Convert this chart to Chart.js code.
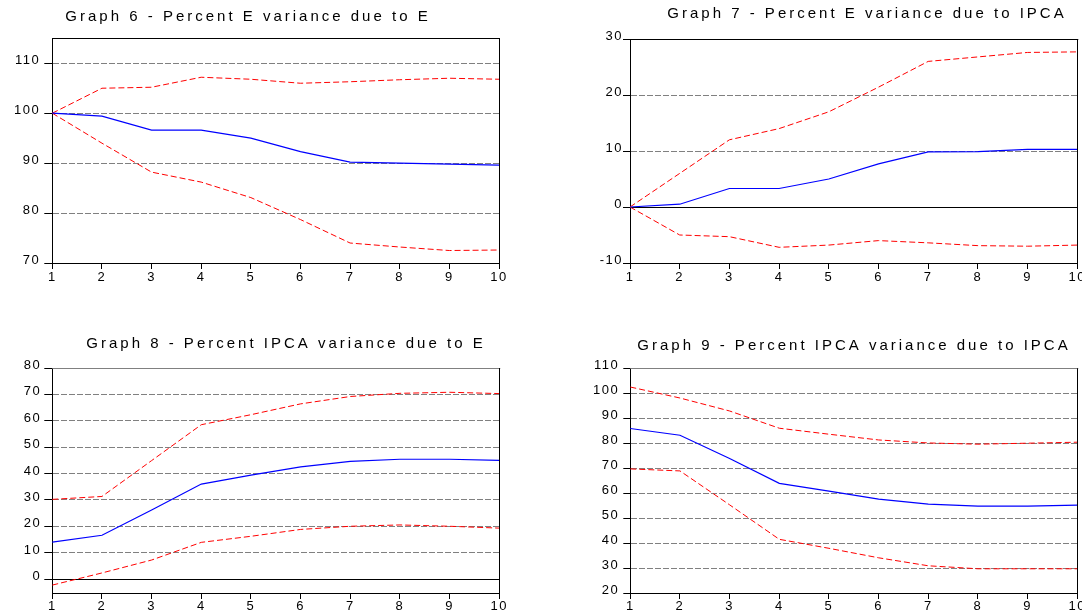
<!DOCTYPE html>
<html>
<head>
<meta charset="utf-8">
<script src="https://cdn.jsdelivr.net/npm/chart.js@4"></script>
<style>
  html, body { margin: 0; padding: 0; background: #fff; }
  #page { position: relative; width: 1082px; height: 614px; overflow: hidden; background: #fff; }
  .panel { position: absolute; }
</style>
</head>
<body>
<div id="page">
  <div class="panel" style="left:-3px; top:0px; width:515px; height:290px;"><canvas id="g6"></canvas></div>
  <div class="panel" style="left:588px; top:0px; width:558px; height:290px;"><canvas id="g7"></canvas></div>
  <div class="panel" style="left:0px; top:320px; width:572px; height:294px;"><canvas id="g8"></canvas></div>
  <div class="panel" style="left:588px; top:320px; width:532px; height:294px;"><canvas id="g9"></canvas></div>
</div>
<script>
// forecast horizon (periods)
const periods = ['1', '2', '3', '4', '5', '6', '7', '8', '9', '10'];

// Graph 6 - Percent E variance due to E
const g6Mid   = [100, 99.4, 96.6, 96.6, 95.0, 92.3, 90.2, 90.0, 89.8, 89.6];
const g6Upper = [100, 105.0, 105.2, 107.2, 106.8, 106.0, 106.3, 106.7, 107.0, 106.8];
const g6Lower = [100, 94.0, 88.2, 86.2, 83.1, 78.7, 74.0, 73.2, 72.5, 72.6];

// Graph 7 - Percent E variance due to IPCA
const g7Mid   = [0, 0.5, 3.3, 3.3, 5.0, 7.7, 9.85, 9.9, 10.3, 10.3];
const g7Upper = [0, 6.0, 12.0, 14.0, 17.0, 21.4, 26.0, 26.8, 27.6, 27.7];
const g7Lower = [0, -5.0, -5.3, -7.2, -6.8, -6.0, -6.4, -6.9, -7.0, -6.8];

// Graph 8 - Percent IPCA variance due to E
const g8Mid   = [14.0, 16.6, 26.2, 36.0, 39.4, 42.5, 44.6, 45.4, 45.4, 45.0];
const g8Upper = [30.2, 31.3, 44.9, 58.5, 62.3, 66.4, 69.2, 70.4, 70.8, 70.3];
const g8Lower = [-2.3, 2.3, 7.2, 13.9, 16.2, 18.8, 20.0, 20.5, 20.0, 19.3];

// Graph 9 - Percent IPCA variance due to IPCA
const g9Mid   = [85.9, 83.2, 73.9, 63.9, 60.8, 57.6, 55.6, 54.8, 54.8, 55.2];
const g9Upper = [102.5, 98.1, 92.9, 86.0, 83.6, 81.3, 80.1, 79.6, 80.0, 80.4];
const g9Lower = [69.7, 68.9, 55.3, 41.5, 37.9, 34.1, 30.9, 29.7, 29.7, 29.7];

Chart.defaults.font.family = 'Arial, "Liberation Sans", sans-serif';
Chart.defaults.color = '#000';

// spaced lettering like the original, plus the top/right frame
const framePlugin = {
  id: 'frame',
  beforeDraw(chart) { chart.ctx.letterSpacing = '3px'; },
  afterDatasetsDraw(chart) { chart.ctx.letterSpacing = '1.5px'; },
  afterDraw(chart, args, opts) {
    const ctx = chart.ctx;
    const a = chart.chartArea;
    ctx.save();
    ctx.lineWidth = 1;
    ctx.strokeStyle = opts.topColor || '#000';
    ctx.beginPath();
    ctx.moveTo(a.left, Math.round(a.top) + 0.5);
    ctx.lineTo(a.right + 1, Math.round(a.top) + 0.5);
    ctx.stroke();
    ctx.strokeStyle = '#000';
    ctx.beginPath();
    ctx.moveTo(Math.round(a.right) + 0.5, a.top);
    ctx.lineTo(Math.round(a.right) + 0.5, a.bottom);
    ctx.stroke();
    ctx.restore();
  }
};

function makeChart(id, mid, upper, lower, p) {
  const band = (data) => ({
    data: data,
    borderColor: '#ff0000',
    borderWidth: 1,
    borderDash: [6, 3],
    pointRadius: 0,
    tension: 0,
    fill: false
  });
  return new Chart(document.getElementById(id), {
    type: 'line',
    data: {
      labels: periods,
      datasets: [
        { data: mid, borderColor: '#0000ff', borderWidth: 1.2, pointRadius: 0, tension: 0, fill: false },
        band(upper),
        band(lower)
      ]
    },
    options: {
      responsive: true,
      maintainAspectRatio: false,
      animation: false,
      events: [],
      layout: { padding: { left: 0, right: p.padRight, top: 0, bottom: 0 } },
      plugins: {
        legend: { display: false },
        tooltip: { enabled: false },
        title: {
          display: true,
          text: p.title,
          color: '#000',
          font: { size: 15, weight: 'normal', lineHeight: 1.2 },
          padding: { top: p.titleTop, bottom: p.titleBottom }
        },
        frame: { topColor: p.topColor }
      },
      scales: {
        x: {
          type: 'category',
          offset: false,
          grid: { drawOnChartArea: false, tickLength: 6, color: '#000', lineWidth: 1 },
          border: { color: '#000', width: 1 },
          ticks: { font: { size: 13 }, padding: p.xPad, maxRotation: 0, autoSkip: false, z: 1 },
          afterFit: (s) => { s.height = p.xHeight; }
        },
        y: {
          min: p.min,
          max: p.max,
          grid: {
            color: (c) => (c.tick && c.tick.value === 0 ? '#000' : '#808080'),
            tickColor: '#000',
            tickLength: p.yTick,
            tickBorderDash: [],
            lineWidth: 1
          },
          border: {
            color: '#000',
            width: 1,
            dash: (c) => (c.tick && c.tick.value === 0 ? [] : [6, 2])
          },
          ticks: { stepSize: 10, includeBounds: false, font: { size: 13 }, padding: p.yPad, labelOffset: -2.5, z: 1 },
          afterFit: (s) => { s.width = p.yWidth; }
        },
        // empty right-hand spacer, only there to place the title like the original
        yR: {
          position: 'right',
          grid: { display: false },
          border: { display: false },
          ticks: { display: false },
          afterFit: (s) => { s.width = p.rightGap; }
        }
      }
    },
    plugins: [framePlugin]
  });
}

makeChart('g6', g6Mid, g6Upper, g6Lower, {
  title: 'Graph 6 - Percent E variance due to E',
  min: 70, max: 115, padRight: 13, rightGap: 0, yWidth: 55.3, xHeight: 27,
  titleTop: 7.5, titleBottom: 12.8, xPad: 1, yTick: 8, yPad: 4, topColor: '#000'
});
makeChart('g7', g7Mid, g7Upper, g7Lower, {
  title: 'Graph 7 - Percent E variance due to IPCA',
  min: -10, max: 30, padRight: 0, rightGap: 68.7, yWidth: 42, xHeight: 27,
  titleTop: 4.8, titleBottom: 16.2, xPad: 1, yTick: 7, yPad: 0, topColor: '#000'
});
makeChart('g8', g8Mid, g8Upper, g8Lower, {
  title: 'Graph 8 - Percent IPCA variance due to E',
  min: -5.3, max: 80, padRight: 0, rightGap: 72.7, yWidth: 52.3, xHeight: 21,
  titleTop: 14.7, titleBottom: 15.3, xPad: 0, yTick: 8, yPad: 3, topColor: '#808080'
});
makeChart('g9', g9Mid, g9Upper, g9Lower, {
  title: 'Graph 9 - Percent IPCA variance due to IPCA',
  min: 20, max: 110, padRight: 0, rightGap: 42.7, yWidth: 42.3, xHeight: 21,
  titleTop: 17, titleBottom: 13.3, xPad: 0, yTick: 7, yPad: 4, topColor: '#808080'
});
</script>
</body>
</html>
